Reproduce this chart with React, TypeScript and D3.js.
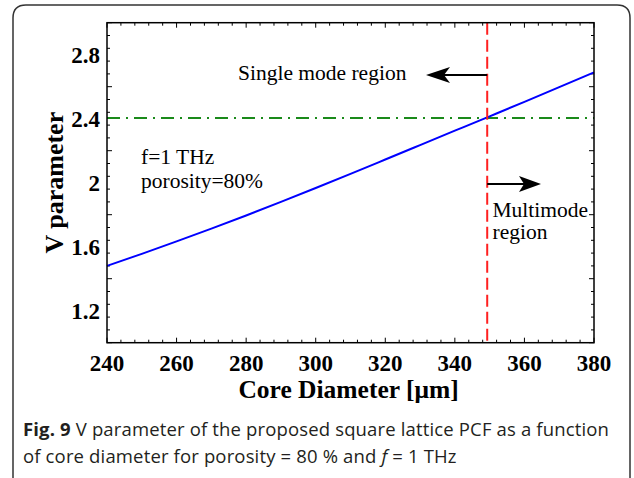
import React from 'react'
import * as d3 from 'd3'

// core diameter (µm) vs V parameter
const diameters = [240, 250, 260, 270, 280, 290, 300, 310, 320, 330, 340, 350, 360, 370, 380]
const vValues = [1.48, 1.555, 1.633, 1.713, 1.795, 1.88, 1.967, 2.055, 2.145, 2.235, 2.325, 2.415, 2.505, 2.597, 2.69]

const xTicks = [240, 260, 280, 300, 320, 340, 360, 380]
const yTicks = [1.2, 1.6, 2, 2.4, 2.8]
const cutoffV = 2.405
const cutoffD = 349.3

const W = 634
const H = 478
const margin = { left: 107, top: 22.7, right: 40, bottom: 135.3 }
const serif = '"Liberation Serif", "Times New Roman", serif'
const sans = '"Open Sans", "Noto Sans", sans-serif'

function App() {
  const x = d3.scaleLinear().domain([240, 380]).range([margin.left, W - margin.right])
  const y = d3.scaleLinear().domain([1, 3]).range([H - margin.bottom, margin.top])
  const [x0, x1] = x.range()
  const [y0, y1] = y.range()

  const line = d3.line<number>()
    .x((_, i) => x(diameters[i]))
    .y(d => y(d))
    .curve(d3.curveNatural)

  // minor ticks: 5 subdivisions per major step
  const xMinor = d3.range(240, 380.001, 4)
  const yMinor = d3.range(1, 3.0001, 0.08)

  const ax = x(cutoffD)

  return (
    <svg width={W} height={H} style={{ position: 'absolute', left: 0, top: 0, background: '#fff' }}>
      <path d={`M13,478 L13,18 Q13,5 26,5 L617,5 Q630,5 630,18 L630,478`} fill="none" stroke="#333" strokeWidth={1.5} />

      {/* minor ticks, all four sides */}
      {xMinor.map((v, i) => (
        <g key={'xm' + i} stroke="#000" strokeWidth={1}>
          <line x1={x(v)} x2={x(v)} y1={y0} y2={y0 - (i % 5 === 0 ? 5 : 3)} />
          <line x1={x(v)} x2={x(v)} y1={y1} y2={y1 + (i % 5 === 0 ? 5 : 3)} />
        </g>
      ))}
      {yMinor.map((v, i) => (
        <g key={'ym' + i} stroke="#000" strokeWidth={1}>
          <line x1={x0} x2={x0 + (i % 5 === 0 ? 5 : 3)} y1={y(v)} y2={y(v)} />
          <line x1={x1} x2={x1 - (i % 5 === 0 ? 5 : 3)} y1={y(v)} y2={y(v)} />
        </g>
      ))}

      {/* cutoff lines */}
      <line x1={x0} x2={x1} y1={y(cutoffV)} y2={y(cutoffV)} stroke="#1a8a1a" strokeWidth={2} strokeDasharray="13,6,2,6" />
      <path d={line(vValues) || ''} fill="none" stroke="#0000ff" strokeWidth={2} />
      <line x1={ax} x2={ax} y1={y1} y2={y0} stroke="#ff2020" strokeWidth={2} strokeDasharray="12,5" />

      <rect x={x0} y={y1} width={x1 - x0} height={y0 - y1} fill="none" stroke="#000" strokeWidth={1.5} />

      {/* tick labels */}
      {xTicks.map(t => (
        <text key={'xt' + t} x={x(t)} y={y0 + 28} textAnchor="middle" fontFamily={serif} fontWeight="bold" fontSize={23}>{t}</text>
      ))}
      {yTicks.map(t => (
        <text key={'yt' + t} x={x0 - 7} y={y(t) + 8} textAnchor="end" fontFamily={serif} fontWeight="bold" fontSize={23}>{t}</text>
      ))}

      <text x={(x0 + x1) / 2 - 2} y={398} textAnchor="middle" fontFamily={serif} fontWeight="bold" fontSize={25.5}>Core Diameter [μm]</text>
      <text transform={`translate(63,${(y0 + y1) / 2}) rotate(-90)`} textAnchor="middle" fontFamily={serif} fontWeight="bold" fontSize={26}>V parameter</text>

      {/* annotations */}
      <text x={238} y={80} fontFamily={serif} fontSize={21.5}>Single mode region</text>
      <line x1={ax} x2={436} y1={75} y2={75} stroke="#000" strokeWidth={2} />
      <path d="M426,75 L450,67 L444,75 L450,83 Z" fill="#000" />
      <line x1={ax} x2={530} y1={184} y2={184} stroke="#000" strokeWidth={2} />
      <path d="M541,184 L519,176 L524,184 L519,192 Z" fill="#000" />
      <text x={492.5} y={217} fontFamily={serif} fontSize={21.5}>Multimode</text>
      <text x={492.5} y={239} fontFamily={serif} fontSize={21.5}>region</text>
      <text x={141} y={164} fontFamily={serif} fontSize={21.5}>f=1 THz</text>
      <text x={141} y={188} fontFamily={serif} fontSize={21.5}>porosity=80%</text>

      {/* caption */}
      <text x={23} y={436} fontFamily={sans} fontSize={18.5} letterSpacing={0.15} fill="#231f20">
        <tspan fontWeight="bold">Fig. 9</tspan> V parameter of the proposed square lattice PCF as a function
      </text>
      <text x={23} y={463} fontFamily={sans} fontSize={18.5} letterSpacing={0.15} fill="#231f20">
        of core diameter for porosity = 80 % and <tspan fontStyle="italic">f</tspan> = 1 THz
      </text>
    </svg>
  )
}

export default App
